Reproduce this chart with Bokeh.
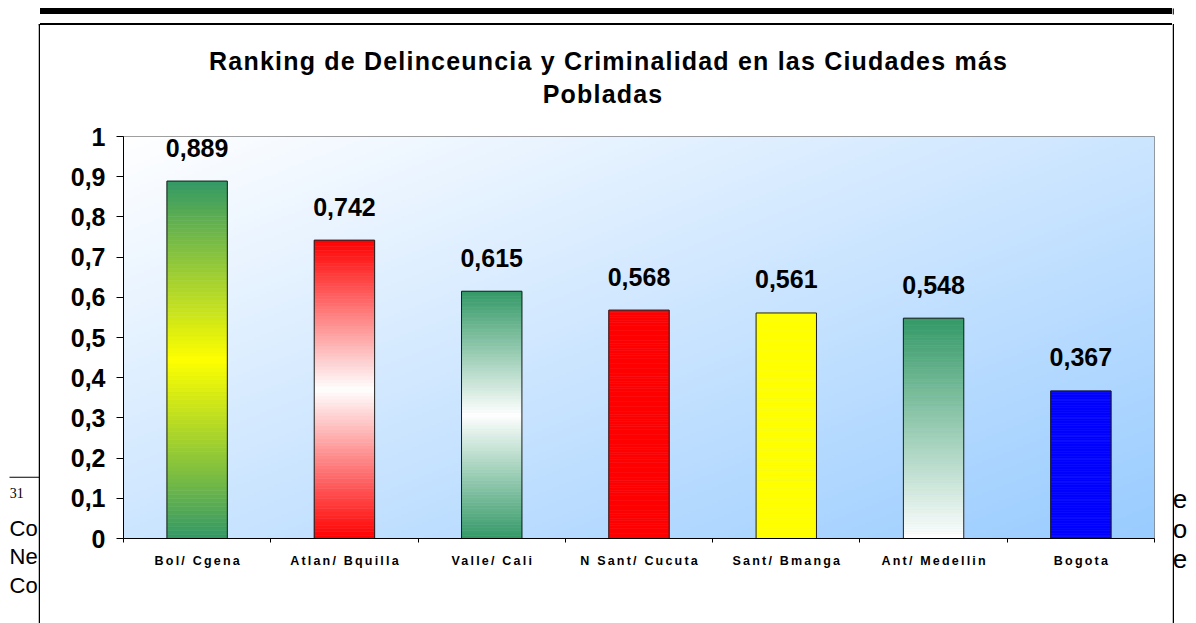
import numpy as np
from bokeh.plotting import figure
from bokeh.layouts import row, column
from bokeh.models import (Range1d, FixedTicker, CustomJSTickFormatter, Label, ColumnDataSource)
from bokeh.core.properties import value
from bokeh.embed import file_html
from bokeh.resources import INLINE

# ---------------- data ----------------
categories = ["Bol/ Cgena", "Atlan/ Bquilla", "Valle/ Cali", "N Sant/ Cucuta",
              "Sant/ Bmanga", "Ant/ Medellin", "Bogota"]
values = [0.889, 0.742, 0.615, 0.568, 0.561, 0.548, 0.367]
value_labels = ["0,889", "0,742", "0,615", "0,568", "0,561", "0,548", "0,367"]
y_ticks = [0.0, 0.1, 0.2, 0.3, 0.4, 0.5, 0.6, 0.7, 0.8, 0.9, 1.0]
y_tick_labels = ["0", "0,1", "0,2", "0,3", "0,4", "0,5", "0,6", "0,7", "0,8", "0,9", "1"]
title_lines = ["Ranking de Delinceuncia y Criminalidad en las Ciudades más", "Pobladas"]
doc_left_texts = ["Co", "Ne", "Co"]
doc_right_texts = ["e", "o", "e"]
footnote_mark = "31"

# ---------------- styles ----------------
bar_styles = [("sym", "#339966", "#FFFF00"), ("sym", "#FF0000", "#FFFFFF"),
              ("sym", "#339966", "#FFFFFF"), ("solid", "#FF0000", None),
              ("solid", "#FFFF00", None), ("fade", "#339966", "#FFFFFF"),
              ("solid", "#0000FF", None)]
BAR_W = 0.41
NSLICE = 90
FONT = "Liberation Sans"
NCAT = len(categories)
TITLE_LS = 1.2     # letter spacing of title (px)
CAT_LS = 2.2       # letter spacing of category labels (px)

# page regions (pixels): left strip | (title strip / chart / category strip) | right strip
LW, MW, RW = 40, 1132, 24
PH = 623
TH = 120          # title strip height
BT, BB = 16, 15   # chart borders above / below the plot frame
FRAME_H = 402
MH = BT + FRAME_H + BB
XH = PH - TH - MH # category label strip height
BL, BR = 83, 18
FX0, FX1 = LW + BL, LW + MW - BR   # page x of plot frame
PXU = (FX1 - FX0) / NCAT           # pixels per category


def hex2rgb(h):
    h = h.lstrip("#")
    return [int(h[i:i + 2], 16) for i in (0, 2, 4)]


def mix(c1, c2, t):
    a, b = hex2rgb(c1), hex2rgb(c2)
    return "#%02x%02x%02x" % tuple(int(round(a[i] + (b[i] - a[i]) * t)) for i in range(3))


def slice_color(style, f):
    kind, c1, c2 = style
    if kind == "solid":
        return c1
    if kind == "sym":
        return mix(c2, c1, abs(f - 0.5) * 2)
    return mix(c2, c1, f)  # fade: bottom c2 -> top c1


def strip(w, h, x0, y0):
    f = figure(width=w, height=h, x_range=Range1d(x0, x0 + w), y_range=Range1d(y0 + h, y0),
               x_axis_type=None, y_axis_type=None, toolbar_location=None, tools="",
               output_backend="svg", min_border=0)
    f.outline_line_color = None
    f.background_fill_color = "white"
    f.border_fill_color = "white"
    return f


def lab(X, Y, text, size, font=FONT, align="left", bold=False):
    # Y is the wanted baseline (page px); Bokeh draws this baseline ~0.4em lower
    return Label(x=X, y=Y - 0.4 * size, text=text, text_font=font, text_font_size="%gpx" % size,
                 text_align=align, text_baseline="alphabetic",
                 text_font_style="bold" if bold else "normal", text_color="black")


JS_PICK = """
let best = 0;
for (let i = 1; i < pos.length; i++) {
  if (Math.abs(pos[i] - tick) < Math.abs(pos[best] - tick)) best = i;
}
return labels[best];
"""

# ---------------- main chart ----------------
centers = [i + 0.5 for i in range(NCAT)]
bounds = [float(i) for i in range(NCAT + 1)]

p = figure(width=MW, height=MH, x_range=Range1d(0, NCAT), y_range=Range1d(0, 1),
           output_backend="svg", toolbar_location=None, tools="",
           min_border_left=BL, min_border_right=BR, min_border_top=BT, min_border_bottom=BB)
p.xgrid.visible = False
p.ygrid.visible = False
p.outline_line_color = "#808080"
p.outline_line_width = 1
p.border_fill_color = "white"
p.background_fill_color = "white"

# background gradient of plot area
gw, gh = 300, 150
u = np.linspace(0, 1, gw)[None, :]
vv = np.linspace(0, 1, gh)[:, None]
t = (u + (1 - vv)) / 2.0
c0 = np.array([255, 255, 255], float)
c1 = np.array([153, 204, 255], float)
img = np.empty((gh, gw), dtype=np.uint32)
view = img.view(dtype=np.uint8).reshape((gh, gw, 4))
for k in range(3):
    view[:, :, k] = np.clip(c0[k] + (c1[k] - c0[k]) * t, 0, 255).astype(np.uint8)
view[:, :, 3] = 255
p.image_rgba(image=[img], x=0, y=0, dw=NCAT, dh=1, level="image")

# gradient bars made of thin slices
sl = dict(left=[], right=[], bottom=[], top=[], color=[])
for i, (v, st) in enumerate(zip(values, bar_styles)):
    c = centers[i]
    for k in range(NSLICE):
        sl["left"].append(c - BAR_W / 2)
        sl["right"].append(c + BAR_W / 2)
        sl["bottom"].append(v * k / NSLICE)
        sl["top"].append(v * (k + 1) / NSLICE)
        sl["color"].append(slice_color(st, (k + 0.5) / NSLICE))
p.quad(left="left", right="right", bottom="bottom", top="top", source=ColumnDataSource(sl),
       fill_color="color", line_color="color", line_width=0.6)
p.vbar(x=centers, top=values, bottom=0, width=BAR_W, fill_color=None,
       line_color="#1f1f1f", line_width=1)

# value labels
p.text(x=centers, y=values, text=value_labels, text_align="center", text_baseline="alphabetic",
       y_offset=-33.5, text_font=value(FONT), text_font_style="bold", text_font_size="25px",
       text_color="black")

# x axis of the chart: line + separator ticks between categories
xa = p.xaxis[0]
xa.ticker = FixedTicker(ticks=[], minor_ticks=bounds)
xa.major_tick_line_color = None
xa.major_tick_out = 0
xa.major_tick_in = 0
xa.minor_tick_line_color = "black"
xa.minor_tick_out = 4
xa.minor_tick_in = 0
xa.axis_line_color = "black"
xa.major_label_standoff = 0

ya = p.yaxis[0]
ya.ticker = FixedTicker(ticks=y_ticks, minor_ticks=[])
ya.formatter = CustomJSTickFormatter(args=dict(pos=y_ticks, labels=y_tick_labels), code=JS_PICK)
ya.major_tick_line_color = "black"
ya.major_tick_out = 7
ya.major_tick_in = 0
ya.minor_tick_line_color = None
ya.axis_line_color = "black"
ya.major_label_text_font = FONT
ya.major_label_text_font_style = "bold"
ya.major_label_text_font_size = "25px"
ya.major_label_text_color = "black"
ya.major_label_standoff = 11

# ---------------- category label strip (shares the chart's x range) ----------------
# letter-spaced labels: Bokeh centres them without the spacing, so shift each tick back
cat_ticks = [c - (len(name) - 1) * CAT_LS / 2 / PXU for c, name in zip(centers, categories)]
cat = figure(width=MW, height=XH, x_range=p.x_range, y_range=Range1d(0, 1),
             y_axis_type=None, toolbar_location=None, tools="", output_backend="svg",
             min_border_left=BL, min_border_right=BR, min_border_top=0, min_border_bottom=XH - 1)
cat.xgrid.visible = False
cat.outline_line_color = None
cat.background_fill_color = "white"
cat.border_fill_color = "white"
cat.styles = {"letter-spacing": "%gpx" % CAT_LS}
ca = cat.xaxis[0]
ca.ticker = FixedTicker(ticks=cat_ticks, minor_ticks=[])
ca.formatter = CustomJSTickFormatter(args=dict(pos=cat_ticks, labels=categories), code=JS_PICK)
ca.axis_line_color = None
ca.major_tick_line_color = None
ca.minor_tick_line_color = None
ca.major_tick_out = 0
ca.major_tick_in = 0
ca.major_label_text_font = FONT
ca.major_label_text_font_style = "bold"
ca.major_label_text_font_size = "12.5px"
ca.major_label_text_color = "black"
ca.major_label_standoff = -1

# ---------------- title strip: document rule + chart box top (CSS bands), title ----------------
top = figure(width=MW, height=TH, x_range=Range1d(FX0, FX1), y_range=Range1d(TH, 0),
             x_axis_type=None, y_axis_type=None, toolbar_location=None, tools="",
             output_backend="svg", min_border_left=BL, min_border_right=BR,
             min_border_top=0, min_border_bottom=0)
top.outline_line_color = None
top.background_fill_color = None
top.border_fill_color = None
top.styles = {"background-image": "linear-gradient(to bottom, #ffffff 0px, #ffffff 8px, "
                                  "#000000 8px, #000000 14px, #ffffff 14px, #ffffff 23.5px, "
                                  "#000000 23.5px, #000000 25px, #ffffff 25px, #ffffff 100%)",
              "background-color": "#ffffff",
              "letter-spacing": "%gpx" % TITLE_LS}
for txt, xc, yb in zip(title_lines, [607.5, 602], [70, 103.3]):
    top.add_layout(lab(xc - (len(txt) - 1) * TITLE_LS / 2, yb, txt, 25, align="center", bold=True))

# ---------------- left strip: document text, chart box left edge ----------------
left = strip(LW, PH, 0, 0)
left.quad(left=40.5, right=LW, top=8, bottom=14, fill_color="black", line_color=None)
left.quad(left=9, right=LW, top=476.2, bottom=477.2, fill_color="black", line_color=None)
left.add_layout(lab(9.3, 498.3, footnote_mark, 14, font="Liberation Serif"))
for txt, yb in zip(doc_left_texts, [536.5, 565, 594]):
    left.add_layout(lab(9, yb, txt, 22))
left.quad(left=38.25, right=39.75, top=23.55, bottom=PH, fill_color="black", line_color=None)
left.quad(left=38.25, right=LW, top=23.55, bottom=25.05, fill_color="black", line_color=None)

# ---------------- right strip ----------------
x0r = LW + MW
right = strip(RW, PH, x0r, 0)
right.quad(left=x0r, right=1173.3, top=8, bottom=14, fill_color="black", line_color=None)
right.quad(left=x0r, right=x0r + 1.5, top=23.55, bottom=PH, fill_color="black", line_color=None)
for txt, yb in zip(doc_right_texts, [509, 539, 569]):
    right.add_layout(lab(x0r + 0.3, yb, txt, 26))

layout = row(left, column(top, p, cat), right)
open("out.html", "w").write(file_html(layout, INLINE))
